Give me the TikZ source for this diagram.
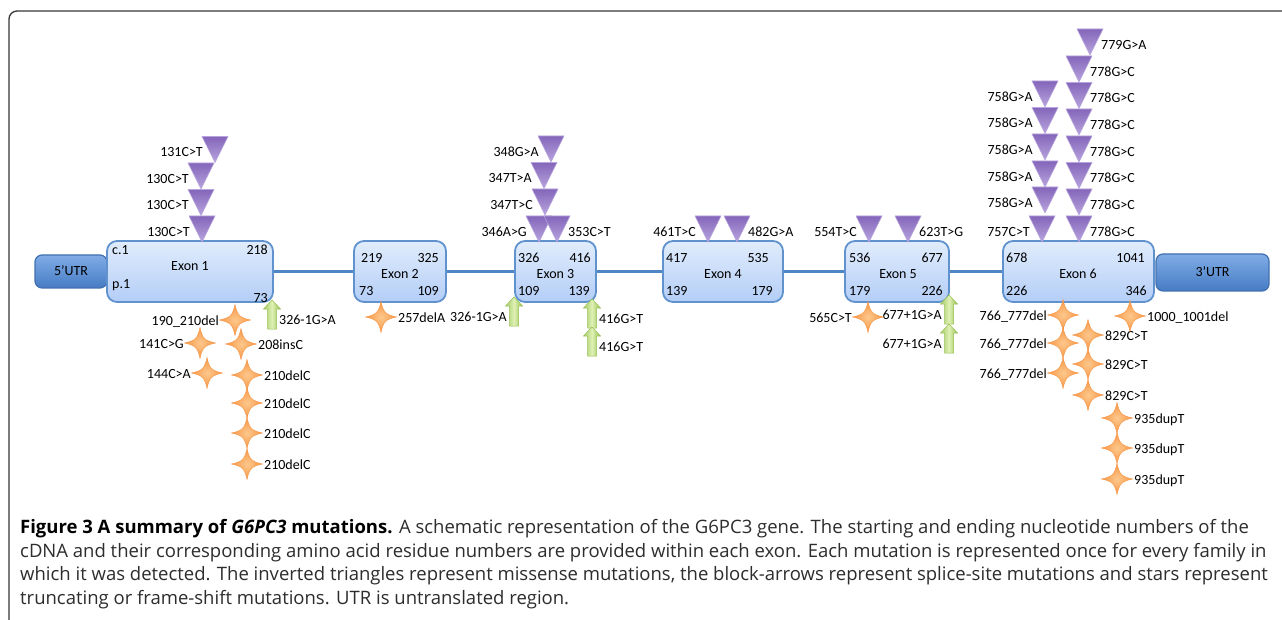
\documentclass[tikz,border=0pt]{standalone}
\usepackage{fontspec}
\setmainfont{Carlito}
\newfontfamily\capfont{Open Sans}
\definecolor{bb}{RGB}{79,134,198}
\definecolor{exb}{RGB}{96,146,206}
\definecolor{ext}{RGB}{224,236,252}
\definecolor{exbot}{RGB}{180,206,247}
\definecolor{utrt}{RGB}{128,172,230}
\definecolor{utrb}{RGB}{70,124,196}
\definecolor{utrd}{RGB}{66,112,176}
\definecolor{trib}{RGB}{132,102,186}
\definecolor{tril}{RGB}{184,164,222}
\definecolor{stc}{RGB}{253,200,140}
\definecolor{sto}{RGB}{247,150,70}
\definecolor{grl}{RGB}{222,240,180}
\definecolor{grd}{RGB}{150,192,80}
\definecolor{framec}{RGB}{55,55,55}
\definecolor{captxt}{RGB}{45,45,45}
\tikzset{
  lab/.style={font=\fontsize{14}{16}\selectfont, inner sep=0pt, text height=9pt, text depth=0pt, text=black},
  exon/.style={draw=exb, line width=1.8pt, rounded corners=10pt, top color=ext, bottom color=exbot, minimum height=61pt, inner sep=0pt},
  utr/.style={draw=utrd, line width=1.2pt, rounded corners=7pt, top color=utrt, bottom color=utrb, inner sep=0pt, font=\fontsize{14}{16}\selectfont, text height=9pt, text depth=0pt},
  bbone/.style={draw=bb, line width=3pt},
  tri/.style={top color=trib, bottom color=tril, draw=tril, line width=0.6pt},
  starsh/.style={inner color=stc, outer color=sto, draw=sto, line width=0.4pt},
  splsh/.style={left color=grd!75!grl, right color=grd, middle color=grl, draw=grd, line width=0.5pt},
  capsty/.style={font=\capfont\fontsize{18.5}{24}\selectfont, inner sep=0pt, text=captxt},
  framesty/.style={draw=framec, line width=1.3pt, rounded corners=8pt}
}
% missense triangle: apex x, apex y, name, label, side
\newcommand{\mis}[5]{%
  \coordinate (#3) at (#1,#2);
  \path[tri] (#1-13,#2-26) -- (#1+13,#2-26) -- (#3) -- cycle;
  \ifx l#5\node[lab,anchor=east] (#3-t) at (#1-12,#2-10) {#4};%
  \else\node[lab,anchor=west] (#3-t) at (#1+11,#2-10) {#4};\fi
}
% truncating star: centre x, centre y, name, label, side
\newcommand{\trn}[5]{%
  \coordinate (#3) at (#1,#2);
  \path[starsh] (#1,#2-15.5) .. controls (#1+2.5,#2-4.5) and (#1+4.5,#2-2.5) .. (#1+15.5,#2)
     .. controls (#1+4.5,#2+2.5) and (#1+2.5,#2+4.5) .. (#1,#2+15.5)
     .. controls (#1-2.5,#2+4.5) and (#1-4.5,#2+2.5) .. (#1-15.5,#2)
     .. controls (#1-4.5,#2-2.5) and (#1-2.5,#2-4.5) .. cycle;
  \ifx l#5\node[lab,anchor=east] (#3-t) at (#1-16,#2+1) {#4};%
  \else\node[lab,anchor=west] (#3-t) at (#1+17,#2+1) {#4};\fi
}
% splice block arrow: tip x, tip y, name, label, side
\newcommand{\spl}[5]{%
  \coordinate (#3) at (#1,#2);
  \path[splsh] (#3) -- (#1+8.5,#2+9) -- (#1+4.5,#2+9) -- (#1+4.5,#2+29)
     -- (#1-4.5,#2+29) -- (#1-4.5,#2+9) -- (#1-8.5,#2+9) -- cycle;
  \ifx l#5\node[lab,anchor=east] (#3-t) at (#1-7,#2+20) {#4};%
  \else\node[lab,anchor=west] (#3-t) at (#1+7,#2+20) {#4};\fi
}
\begin{document}
\begin{tikzpicture}[x=1pt,y=-1pt]
\useasboundingbox (0,0) rectangle (1282,620);
\fill[white] (0,0) rectangle (1282,620);
\draw[framesty] (1284,11) -- (9,11) -- (9,622);

% UTRs
\node[utr, minimum width=72pt, minimum height=33pt] (u5) at (71,271.5) {5’UTR};
\node[utr, minimum width=113pt, minimum height=37pt] (u3) at (1212.5,272.5) {3’UTR};

% exons
\node[exon, minimum width=166pt] (ex1) at (190,271.5) {};
\node[exon, minimum width=92pt] (ex2) at (400,271.5) {};
\node[exon, minimum width=81pt] (ex3) at (555.5,271.5) {};
\node[exon, minimum width=120pt] (ex4) at (723,271.5) {};
\node[exon, minimum width=104pt] (ex5) at (897,271.5) {};
\node[exon, minimum width=151pt] (ex6) at (1078.5,271.5) {};

% backbone
\draw[bbone] (ex1.east) -- (ex2.west);
\draw[bbone] (ex2.east) -- (ex3.west);
\draw[bbone] (ex3.east) -- (ex4.west);
\draw[bbone] (ex4.east) -- (ex5.west);
\draw[bbone] (ex5.east) -- (ex6.west);

% exon texts
\node[lab,anchor=west] (e1a) at (112,250) {c.1};
\node[lab,anchor=east] (e1b) at (268,250) {218};
\node[lab] (e1n) at (190,266) {Exon 1};
\node[lab,anchor=west] (e1c) at (112,284) {p.1};
\node[lab,anchor=east] (e1d) at (268,298) {73};

\node[lab,anchor=west] (e2a) at (361,258) {219};
\node[lab,anchor=east] (e2b) at (439,258) {325};
\node[lab] (e2n) at (400,274) {Exon 2};
\node[lab,anchor=west] (e2c) at (359,291) {73};
\node[lab,anchor=east] (e2d) at (439,291) {109};

\node[lab,anchor=west] (e3a) at (518,258) {326};
\node[lab,anchor=east] (e3b) at (591,258) {416};
\node[lab] (e3n) at (555.5,274) {Exon 3};
\node[lab,anchor=west] (e3c) at (518,291) {109};
\node[lab,anchor=east] (e3d) at (590,291) {139};

\node[lab,anchor=west] (e4a) at (666,258) {417};
\node[lab,anchor=east] (e4b) at (769,258) {535};
\node[lab] (e4n) at (723,274) {Exon 4};
\node[lab,anchor=west] (e4c) at (666,291) {139};
\node[lab,anchor=east] (e4d) at (773,291) {179};

\node[lab,anchor=west] (e5a) at (849,258) {536};
\node[lab,anchor=east] (e5b) at (943,258) {677};
\node[lab] (e5n) at (898,274) {Exon 5};
\node[lab,anchor=west] (e5c) at (849,291) {179};
\node[lab,anchor=east] (e5d) at (943,291) {226};

\node[lab,anchor=west] (e6a) at (1006,258) {678};
\node[lab,anchor=east] (e6b) at (1145,258) {1041};
\node[lab] (e6n) at (1078,274) {Exon 6};
\node[lab,anchor=west] (e6c) at (1006,291) {226};
\node[lab,anchor=east] (e6d) at (1147,291) {346};

% missense, exon 1
\mis{215}{162.5}{m1a}{131C>T}{l}
\mis{201}{189}{m1b}{130C>T}{l}
\mis{201}{215.5}{m1c}{130C>T}{l}
\mis{202}{242}{m1d}{130C>T}{l}
% exon 3
\mis{551}{162}{m3a}{348G>A}{l}
\mis{544}{188.5}{m3b}{347T>A}{l}
\mis{545}{215}{m3c}{347T>C}{l}
\mis{539}{242}{m3d}{346A>G}{l}
\mis{557}{242}{m3e}{353C>T}{r}
% exon 4
\mis{708}{242}{m4a}{461T>C}{l}
\mis{737}{242}{m4b}{482G>A}{r}
% exon 5
\mis{869}{242}{m5a}{554T>C}{l}
\mis{908}{242}{m5b}{623T>G}{r}
% exon 6 left column
\mis{1045}{107}{m6a}{758G>A}{l}
\mis{1045}{133.5}{m6b}{758G>A}{l}
\mis{1045}{160}{m6c}{758G>A}{l}
\mis{1045}{187}{m6d}{758G>A}{l}
\mis{1045}{213}{m6e}{758G>A}{l}
\mis{1042}{242}{m6f}{757C>T}{l}
% exon 6 right column
\mis{1090}{55}{m6g}{779G>A}{r}
\mis{1079}{82}{m6h}{778G>C}{r}
\mis{1079}{108.5}{m6i}{778G>C}{r}
\mis{1079}{135}{m6j}{778G>C}{r}
\mis{1079}{162}{m6k}{778G>C}{r}
\mis{1079}{188.5}{m6l}{778G>C}{r}
\mis{1079}{215}{m6m}{778G>C}{r}
\mis{1079}{242}{m6n}{778G>C}{r}

% splice-site arrows
\spl{272}{300}{s1}{326-1G>A}{r}
\spl{514}{297}{s2}{326-1G>A}{l}
\spl{592}{299}{s3}{416G>T}{r}
\spl{592}{327}{s4}{416G>T}{r}
\spl{949}{295}{s5}{677+1G>A}{l}
\spl{949}{324}{s6}{677+1G>A}{l}

% truncating stars
\trn{235}{320}{t1}{190\_210del}{l}
\trn{200}{343}{t2}{141C>G}{l}
\trn{241}{344}{t3}{208insC}{r}
\trn{207}{373}{t4}{144C>A}{l}
\trn{247}{375}{t5}{210delC}{r}
\trn{247}{403}{t6}{210delC}{r}
\trn{247}{433}{t7}{210delC}{r}
\trn{247}{464}{t8}{210delC}{r}
\trn{381}{317}{t9}{257delA}{r}
\trn{868}{317}{t10}{565C>T}{l}
\trn{1063}{315}{t11}{766\_777del}{l}
\trn{1063}{343}{t12}{766\_777del}{l}
\trn{1063}{373}{t13}{766\_777del}{l}
\trn{1088}{335}{t14}{829C>T}{r}
\trn{1088}{364}{t15}{829C>T}{r}
\trn{1088}{395}{t16}{829C>T}{r}
\trn{1130}{316}{t17}{1000\_1001del}{r}
\trn{1117}{418}{t18}{935dupT}{r}
\trn{1117}{448}{t19}{935dupT}{r}
\trn{1117}{479}{t20}{935dupT}{r}

% caption
\node[capsty,anchor=base west] (c1) at (20,533) {\textbf{\color{black}Figure 3 A summary of \textit{G6PC3} mutations.} A schematic representation of the G6PC3 gene. The starting and ending nucleotide numbers of the};
\node[capsty,anchor=base west] (c2) at (20,557) {cDNA and their corresponding amino acid residue numbers are provided within each exon. Each mutation is represented once for every family in};
\node[capsty,anchor=base west] (c3) at (20,580.5) {which it was detected. The inverted triangles represent missense mutations, the block-arrows represent splice-site mutations and stars represent};
\node[capsty,anchor=base west] (c4) at (20,604) {truncating or frame-shift mutations. UTR is untranslated region.};
\end{tikzpicture}
\end{document}
